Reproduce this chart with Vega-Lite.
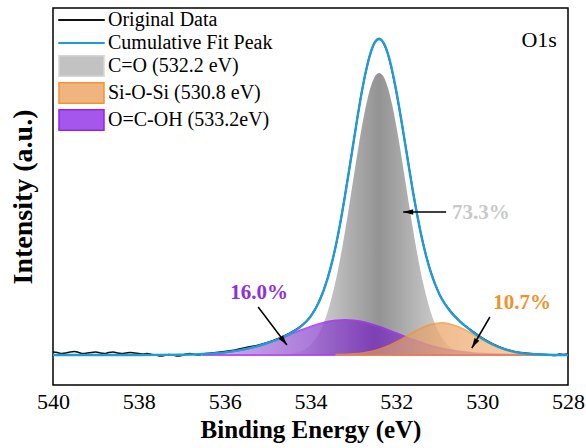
{
  "$schema": "https://vega.github.io/schema/vega-lite/v6.json",
  "autosize": "none",
  "width": 515,
  "height": 377,
  "padding": {"left": 53, "top": 8, "right": 18, "bottom": 63},
  "background": "white",
  "config": {
    "view": {"stroke": "#000", "strokeWidth": 1.5},
    "font": "Liberation Serif",
    "axis": {"grid": false, "domain": false, "labelFont": "Liberation Serif", "titleFont": "Liberation Serif", "labelColor": "#000", "titleColor": "#000"},
    "legend": {"symbolFillColor": "#000", "symbolOpacity": 1, "symbolSize": 576, "symbolStrokeWidth": 1.5,
      "labelFont": "Liberation Serif", "labelFontSize": 20, "labelColor": "#000", "labelOffset": 24,
      "rowPadding": -3, "padding": 0, "labelLimit": 400}
  },
  "datasets": {
    "fit": [
      {"e": 528.0, "v": 0}, {"e": 528.5, "v": 0.25}, {"e": 529.0, "v": 1.5}, {"e": 529.25, "v": 3.2},
      {"e": 529.5, "v": 6.1}, {"e": 529.75, "v": 10.5}, {"e": 530.0, "v": 16.6}, {"e": 530.25, "v": 24.05},
      {"e": 530.5, "v": 32.8}, {"e": 530.75, "v": 43.95}, {"e": 531.0, "v": 61.06}, {"e": 531.2, "v": 83.08},
      {"e": 531.4, "v": 115.9}, {"e": 531.6, "v": 160.3}, {"e": 531.8, "v": 212.6}, {"e": 531.9, "v": 239.0},
      {"e": 532.0, "v": 263.7}, {"e": 532.1, "v": 285.1}, {"e": 532.2, "v": 301.7}, {"e": 532.3, "v": 312.3},
      {"e": 532.4, "v": 316.0}, {"e": 532.5, "v": 312.6}, {"e": 532.6, "v": 302.2}, {"e": 532.7, "v": 285.6},
      {"e": 532.8, "v": 264.1}, {"e": 532.9, "v": 239.1}, {"e": 533.0, "v": 212.2}, {"e": 533.1, "v": 184.7},
      {"e": 533.2, "v": 158.2}, {"e": 533.3, "v": 133.5}, {"e": 533.4, "v": 111.6}, {"e": 533.5, "v": 92.6},
      {"e": 533.6, "v": 76.65}, {"e": 533.8, "v": 53.2}, {"e": 534.0, "v": 38.4}, {"e": 534.25, "v": 27.6},
      {"e": 534.5, "v": 20.9}, {"e": 534.75, "v": 16.0}, {"e": 535.0, "v": 12.0}, {"e": 535.25, "v": 8.7},
      {"e": 535.5, "v": 6.1}, {"e": 535.75, "v": 4.1}, {"e": 536.0, "v": 2.6}, {"e": 536.5, "v": 1.0},
      {"e": 537.0, "v": 0.3}, {"e": 537.5, "v": 0.1}, {"e": 538.0, "v": 0}, {"e": 539.0, "v": 0}, {"e": 540.0, "v": 0}
    ],
    "orig": [
      {"e": 540.0, "v": 3}, {"e": 539.9, "v": 2.5}, {"e": 539.8, "v": 1.5}, {"e": 539.7, "v": 2}, {"e": 539.6, "v": 3},
      {"e": 539.5, "v": 3.5}, {"e": 539.4, "v": 2.5}, {"e": 539.3, "v": 1.5}, {"e": 539.2, "v": 2}, {"e": 539.1, "v": 2.5},
      {"e": 539.0, "v": 3}, {"e": 538.9, "v": 2}, {"e": 538.8, "v": 1.5}, {"e": 538.7, "v": 2.5}, {"e": 538.6, "v": 3},
      {"e": 538.5, "v": 2}, {"e": 538.4, "v": 1.5}, {"e": 538.3, "v": 2}, {"e": 538.2, "v": 2.5}, {"e": 538.1, "v": 2},
      {"e": 538.0, "v": 1.5}, {"e": 537.9, "v": 1}, {"e": 537.8, "v": 1.5}, {"e": 537.7, "v": 0.5}, {"e": 537.6, "v": 0},
      {"e": 537.5, "v": -1}, {"e": 537.4, "v": -0.5}, {"e": 537.3, "v": 0.5}, {"e": 537.2, "v": 0}, {"e": 537.1, "v": -1},
      {"e": 537.0, "v": -0.5}, {"e": 536.9, "v": 1}, {"e": 536.8, "v": 1.5}, {"e": 536.7, "v": 0.5}, {"e": 536.6, "v": 0},
      {"e": 536.5, "v": 1}, {"e": 536.4, "v": 1.5}, {"e": 536.3, "v": 2}, {"e": 536.2, "v": 2.5}, {"e": 536.1, "v": 3},
      {"e": 536.0, "v": 3.5}, {"e": 535.75, "v": 5}, {"e": 535.5, "v": 7.5}, {"e": 535.25, "v": 9.5}, {"e": 535.0, "v": 12.5},
      {"e": 534.75, "v": 16.5}, {"e": 534.5, "v": 21.5}, {"e": 534.25, "v": 28}, {"e": 534.0, "v": 38.5}, {"e": 533.8, "v": 53.5},
      {"e": 533.6, "v": 77}, {"e": 533.4, "v": 111}, {"e": 533.2, "v": 158.5}, {"e": 533.0, "v": 212}, {"e": 532.8, "v": 264.5},
      {"e": 532.6, "v": 302}, {"e": 532.5, "v": 313}, {"e": 532.4, "v": 316.5}, {"e": 532.3, "v": 312}, {"e": 532.2, "v": 301.5},
      {"e": 532.0, "v": 263}, {"e": 531.8, "v": 213}, {"e": 531.6, "v": 160.5}, {"e": 531.4, "v": 116}, {"e": 531.2, "v": 83.5},
      {"e": 531.0, "v": 61}, {"e": 530.75, "v": 44.5}, {"e": 530.5, "v": 33}, {"e": 530.25, "v": 24.5}, {"e": 530.0, "v": 17},
      {"e": 529.75, "v": 11}, {"e": 529.5, "v": 6.5}, {"e": 529.25, "v": 3.5}, {"e": 529.0, "v": 2}, {"e": 528.75, "v": 1},
      {"e": 528.5, "v": 0.5}, {"e": 528.3, "v": -0.5}, {"e": 528.2, "v": 1}, {"e": 528.1, "v": 0.5}, {"e": 528.0, "v": 1}
    ],
    "co": [
      {"e": 534.6, "v": 0.52}, {"e": 534.4, "v": 1.55}, {"e": 534.2, "v": 4.17}, {"e": 534.0, "v": 10.1},
      {"e": 533.8, "v": 22.05}, {"e": 533.6, "v": 43.35}, {"e": 533.4, "v": 76.8}, {"e": 533.3, "v": 98.3},
      {"e": 533.2, "v": 122.7}, {"e": 533.1, "v": 149.1}, {"e": 533.0, "v": 176.6}, {"e": 532.9, "v": 203.7},
      {"e": 532.8, "v": 229.0}, {"e": 532.7, "v": 250.8}, {"e": 532.6, "v": 267.7}, {"e": 532.5, "v": 278.4},
      {"e": 532.4, "v": 282}, {"e": 532.3, "v": 278.4}, {"e": 532.2, "v": 267.7}, {"e": 532.1, "v": 250.8},
      {"e": 532.0, "v": 229.0}, {"e": 531.9, "v": 203.7}, {"e": 531.8, "v": 176.6}, {"e": 531.7, "v": 149.1},
      {"e": 531.6, "v": 122.7}, {"e": 531.5, "v": 98.3}, {"e": 531.4, "v": 76.8}, {"e": 531.2, "v": 43.35},
      {"e": 531.0, "v": 22.05}, {"e": 530.8, "v": 10.1}, {"e": 530.6, "v": 4.17}, {"e": 530.4, "v": 1.55}, {"e": 530.2, "v": 0.52}
    ],
    "ocoh": [
      {"e": 536.5, "v": 0.96}, {"e": 536.0, "v": 2.62}, {"e": 535.75, "v": 4.08}, {"e": 535.5, "v": 6.09},
      {"e": 535.25, "v": 8.73}, {"e": 535.0, "v": 11.99}, {"e": 534.75, "v": 15.82}, {"e": 534.5, "v": 20.02},
      {"e": 534.25, "v": 24.31}, {"e": 534.0, "v": 28.33}, {"e": 533.8, "v": 31.07}, {"e": 533.6, "v": 33.2},
      {"e": 533.4, "v": 34.54}, {"e": 533.2, "v": 35}, {"e": 533.0, "v": 34.54}, {"e": 532.8, "v": 33.2},
      {"e": 532.6, "v": 31.07}, {"e": 532.4, "v": 28.33}, {"e": 532.2, "v": 25.15}, {"e": 532.0, "v": 21.75},
      {"e": 531.8, "v": 18.31}, {"e": 531.6, "v": 15.02}, {"e": 531.4, "v": 11.99}, {"e": 531.2, "v": 9.33},
      {"e": 531.0, "v": 7.07}, {"e": 530.75, "v": 4.81}, {"e": 530.5, "v": 3.15}, {"e": 530.25, "v": 1.97},
      {"e": 530.0, "v": 1.19}, {"e": 529.75, "v": 0.69}, {"e": 529.5, "v": 0.38}, {"e": 529.0, "v": 0.1}, {"e": 528.6, "v": 0}
    ],
    "sio": [
      {"e": 533.4, "v": 0.23}, {"e": 533.0, "v": 1.01}, {"e": 532.8, "v": 1.92}, {"e": 532.6, "v": 3.42},
      {"e": 532.4, "v": 5.68}, {"e": 532.2, "v": 8.86}, {"e": 532.0, "v": 12.93}, {"e": 531.8, "v": 17.67},
      {"e": 531.6, "v": 22.61}, {"e": 531.4, "v": 27.09}, {"e": 531.2, "v": 30.4}, {"e": 531.0, "v": 31.94},
      {"e": 530.95, "v": 32}, {"e": 530.75, "v": 30.97}, {"e": 530.5, "v": 27.09}, {"e": 530.25, "v": 21.39},
      {"e": 530.0, "v": 15.24}, {"e": 529.75, "v": 9.8}, {"e": 529.5, "v": 5.68}, {"e": 529.25, "v": 2.98},
      {"e": 529.0, "v": 1.41}, {"e": 528.75, "v": 0.6}, {"e": 528.5, "v": 0.23}
    ],
    "arrows": [
      {"id": "co", "e": 530.84, "v": 143, "e2": 531.84, "v2": 143},
      {"id": "ocoh", "e": 535.22, "v": 48, "e2": 534.55, "v2": 10},
      {"id": "sio", "e": 529.82, "v": 38, "e2": 530.24, "v2": 7}
    ],
    "labels": [
      {"t": "73.3%", "e": 530.03, "v": 142},
      {"t": "16.0%", "e": 535.2, "v": 62},
      {"t": "10.7%", "e": 529.07, "v": 52}
    ],
    "legend": [
      {"name": "Original Data"},
      {"name": "Cumulative Fit Peak"},
      {"name": "C=O (532.2 eV)"},
      {"name": "Si-O-Si (530.8 eV)"},
      {"name": "O=C-OH (533.2eV)"}
    ]
  },
  "encoding": {
    "x": {"field": "e", "type": "quantitative", "scale": {"domain": [528, 540], "reverse": true, "nice": false, "zero": false},
      "axis": {"values": [540, 538, 536, 534, 532, 530, 528], "ticks": false, "labelFontSize": 22, "labelPadding": 6, "labelFlush": false,
        "title": "Binding Energy (eV)", "titleFontSize": 25, "titleFontWeight": "bold", "titlePadding": 5}},
    "y": {"field": "v", "type": "quantitative", "scale": {"domain": [-30, 347], "nice": false, "zero": false},
      "axis": {"labels": false, "ticks": false, "title": "Intensity (a.u.)", "titleFontSize": 28, "titleFontWeight": "bold", "titlePadding": 16}}
  },
  "layer": [
    {
      "data": {"name": "co"},
      "mark": {"type": "area", "interpolate": "monotone", "strokeWidth": 0,
        "fill": {"gradient": "linear", "x1": 0, "y1": 0, "x2": 1, "y2": 0,
          "stops": [{"offset": 0, "color": "#eeeeee"}, {"offset": 0.5, "color": "#939393"}, {"offset": 1, "color": "#eeeeee"}]}},
      "encoding": {"y2": {"datum": 0}}
    },
    {
      "data": {"name": "ocoh"},
      "mark": {"type": "area", "interpolate": "monotone", "opacity": 0.75, "stroke": "#9b1ff2", "strokeWidth": 2,
        "fill": {"gradient": "linear", "x1": 0, "y1": 0, "x2": 1, "y2": 0,
          "stops": [{"offset": 0, "color": "#c39ae6"}, {"offset": 0.5, "color": "#7524bf"}, {"offset": 1, "color": "#b88ae0"}]}},
      "encoding": {"y2": {"datum": 0}}
    },
    {
      "data": {"name": "sio"},
      "mark": {"type": "area", "interpolate": "monotone", "opacity": 0.75, "stroke": "#f39433", "strokeWidth": 1.8,
        "fill": {"gradient": "linear", "x1": 0, "y1": 0, "x2": 1, "y2": 0,
          "stops": [{"offset": 0, "color": "#b98a7a"}, {"offset": 0.5, "color": "#eba86c"}, {"offset": 1, "color": "#f8c896"}]}},
      "encoding": {"y2": {"datum": 0}}
    },
    {
      "data": {"name": "orig"},
      "mark": {"type": "line", "interpolate": "monotone", "color": "#111111", "strokeWidth": 1.6}
    },
    {
      "data": {"name": "fit"},
      "mark": {"type": "line", "interpolate": "monotone", "color": "#1f9bd7", "strokeWidth": 2.4}
    },
    {
      "data": {"name": "arrows"},
      "mark": {"type": "rule", "color": "#000", "strokeWidth": 1.5},
      "encoding": {"x2": {"field": "e2"}, "y2": {"field": "v2"}}
    },
    {
      "data": {"name": "arrows"},
      "transform": [{"filter": "datum.id === 'co'"}],
      "mark": {"type": "point", "shape": "M0,0L0.55,2L-0.55,2Z", "size": 100, "angle": 270, "filled": true, "color": "#000", "opacity": 1, "strokeWidth": 0},
      "encoding": {"x": {"field": "e2", "type": "quantitative"}, "y": {"field": "v2", "type": "quantitative"}}
    },
    {
      "data": {"name": "arrows"},
      "transform": [{"filter": "datum.id === 'ocoh'"}],
      "mark": {"type": "point", "shape": "M0,0L0.55,2L-0.55,2Z", "size": 100, "angle": 142.6, "filled": true, "color": "#000", "opacity": 1, "strokeWidth": 0},
      "encoding": {"x": {"field": "e2", "type": "quantitative"}, "y": {"field": "v2", "type": "quantitative"}}
    },
    {
      "data": {"name": "arrows"},
      "transform": [{"filter": "datum.id === 'sio'"}],
      "mark": {"type": "point", "shape": "M0,0L0.55,2L-0.55,2Z", "size": 100, "angle": 210.1, "filled": true, "color": "#000", "opacity": 1, "strokeWidth": 0},
      "encoding": {"x": {"field": "e2", "type": "quantitative"}, "y": {"field": "v2", "type": "quantitative"}}
    },
    {
      "data": {"name": "labels"},
      "mark": {"type": "text", "font": "Liberation Serif", "fontSize": 21, "fontWeight": "bold", "align": "center", "baseline": "middle"},
      "encoding": {
        "text": {"field": "t"},
        "color": {"field": "t", "type": "nominal", "scale": {"domain": ["73.3%", "16.0%", "10.7%"], "range": ["#c9c9c9", "#8f2fe0", "#f0922c"]}, "legend": null}
      }
    },
    {
      "data": {"values": [{"t": "O1s", "e": 528.26, "v": 315}]},
      "mark": {"type": "text", "font": "Liberation Serif", "fontSize": 22, "align": "right", "baseline": "middle", "color": "#000"},
      "encoding": {"text": {"field": "t"}}
    },
    {
      "data": {"name": "legend"},
      "mark": {"type": "point", "filled": true, "opacity": 0, "strokeWidth": 1.5},
      "encoding": {
        "x": {"datum": 534},
        "y": {"datum": 100},
        "fill": {"field": "name", "type": "nominal",
          "scale": {"domain": ["Original Data", "Cumulative Fit Peak", "C=O (532.2 eV)", "Si-O-Si (530.8 eV)", "O=C-OH (533.2eV)"],
            "range": ["#111111", "#1f9bd7", "#c2c2c2", "#f0b47e", "#a457ea"]},
          "legend": {"title": null, "orient": "none", "legendX": 5, "legendY": -1}},
        "stroke": {"field": "name", "type": "nominal",
          "scale": {"domain": ["Original Data", "Cumulative Fit Peak", "C=O (532.2 eV)", "Si-O-Si (530.8 eV)", "O=C-OH (533.2eV)"],
            "range": ["#111111", "#1f9bd7", "#d6d6d6", "#f39433", "#9b1ff2"]},
          "legend": {"title": null, "orient": "none", "legendX": 5, "legendY": -1}},
        "shape": {"field": "name", "type": "nominal",
          "scale": {"domain": ["Original Data", "Cumulative Fit Peak", "C=O (532.2 eV)", "Si-O-Si (530.8 eV)", "O=C-OH (533.2eV)"],
            "range": ["M-1,-0.02H2.75V0.02H-1Z", "M-1,-0.02H2.75V0.02H-1Z", "M-1,-0.85H2.75V0.85H-1Z", "M-1,-0.85H2.75V0.85H-1Z", "M-1,-0.85H2.75V0.85H-1Z"]},
          "legend": {"title": null, "orient": "none", "legendX": 5, "legendY": -1}}
      }
    }
  ]
}
